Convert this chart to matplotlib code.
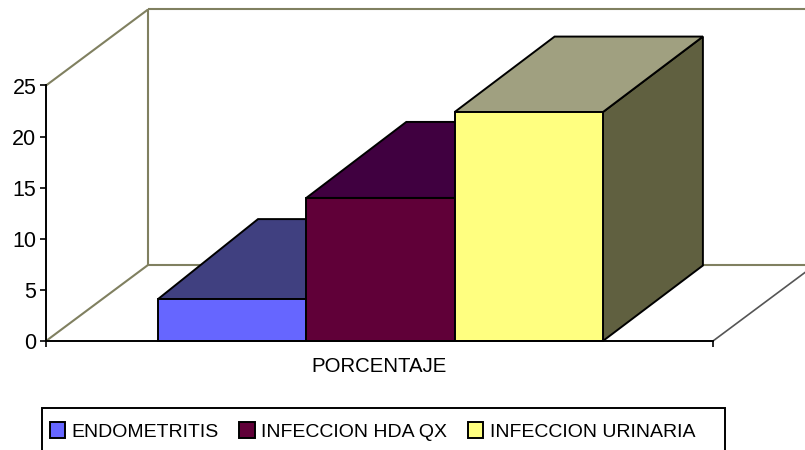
import matplotlib
matplotlib.use("Agg")
import matplotlib.pyplot as plt
from matplotlib.patches import Polygon, Patch, Rectangle

plt.rcParams['font.family'] = ['Liberation Sans', 'DejaVu Sans']

categories = ["ENDOMETRITIS", "INFECCION HDA QX", "INFECCION URINARIA"]
values = [4.1, 14, 22.4]
group_label = "PORCENTAJE"
y_ticks = [0, 5, 10, 15, 20, 25]
front_colors = ["#6666FF", "#600038", "#FFFF80"]
top_colors = ["#404080", "#400040", "#A0A080"]
side_colors = ["#333366", "#400030", "#606040"]
wall_color = "#808060"
edge = "black"

W, H = 805, 450
fig = plt.figure(figsize=(W / 100, H / 100), dpi=100, facecolor="white")
ax_l, ax_r, ax_b, ax_t = 46, 713, 341, 85.5
ax = fig.add_axes([ax_l / W, 1 - ax_b / H, (ax_r - ax_l) / W, (ax_b - ax_t) / H])
ax.set_xlim(0, 1)
ax.set_ylim(0, 25)
ax.patch.set_visible(False)

# depth of the 3D box, in axis units
x_per_px = 1 / (ax_r - ax_l)
y_per_px = 25 / (ax_b - ax_t)
wall_dx = 102 * x_per_px
wall_dy = 76 * y_per_px
bar_dx = 100 * x_per_px
bar_dy = [d * y_per_px for d in (80, 76, 75.5)]
bar_w = 148.3 * x_per_px
start = (158 - ax_l) * x_per_px
xmax_clip = (W + 5 - ax_l) * x_per_px

# walls and floor
wall = dict(color=wall_color, lw=1.5, clip_on=False, zorder=1, solid_capstyle="butt")
ax.plot([0, wall_dx], [0, wall_dy], **wall)
ax.plot([0, wall_dx], [25, 25 + wall_dy], **wall)
ax.plot([wall_dx, wall_dx], [wall_dy, 25 + wall_dy], **wall)
ax.plot([wall_dx, xmax_clip], [25 + wall_dy, 25 + wall_dy], **wall)
ax.plot([wall_dx, xmax_clip], [wall_dy, wall_dy], **wall)
ax.plot([1, 1 + wall_dx], [0, wall_dy], color="#555555", lw=1.2, clip_on=False, zorder=1)

# bars, back to front in drawing order
for i, (v, f, t, s) in enumerate(zip(values, front_colors, top_colors, side_colors)):
    x0 = start + i * bar_w
    x1 = x0 + bar_w
    dy = bar_dy[i]
    ax.add_patch(Polygon([(x1, 0), (x1 + bar_dx, dy), (x1 + bar_dx, v + dy), (x1, v)],
                         fc=s, ec=edge, lw=1.4, clip_on=False, zorder=2 + i))
    ax.add_patch(Polygon([(x0, v), (x0 + bar_dx, v + dy), (x1 + bar_dx, v + dy), (x1, v)],
                         fc=t, ec=edge, lw=1.4, clip_on=False, zorder=2 + i))
    ax.bar(x0, v, width=bar_w, align="edge", color=f, edgecolor=edge, lw=1.4,
           clip_on=False, zorder=2 + i, label=categories[i])

# axes
for side in ("top", "right"):
    ax.spines[side].set_visible(False)
for side in ("left", "bottom"):
    ax.spines[side].set_linewidth(1.4)
    ax.spines[side].set_zorder(10)
ax.set_yticks(y_ticks)
ax.set_xticks([0, 1])
ax.set_xticklabels(["", ""])
ax.tick_params(axis="both", length=4, width=1.2, colors="black")
ax.tick_params(axis="y", labelsize=15.5, pad=3)
ax.annotate(group_label, xy=(0.5, 0), xycoords="axes fraction", xytext=(0, -18.5),
            textcoords="offset points", ha="center", va="center", fontsize=14.7, color="black")

# legend box (runs off the bottom of the picture)
fig.add_artist(Rectangle((42 / W, -0.05), (725 - 42) / W, 1 - 408 / H + 0.05,
                         transform=fig.transFigure, fc="white", ec="black", lw=1.4, zorder=3))
handles = [Patch(fc=c, ec=edge, lw=1.4, label=n) for c, n in zip(front_colors, categories)]
leg = fig.legend(handles=handles, loc="center", bbox_to_anchor=(372.5 / W, 1 - 431.5 / H),
                 ncols=3, frameon=False, fontsize=14, handlelength=0.78, handleheight=0.85,
                 handletextpad=0.35, columnspacing=1.05, borderpad=0, borderaxespad=0)
leg.set_zorder(4)

fig.savefig("out.png", dpi=100)
